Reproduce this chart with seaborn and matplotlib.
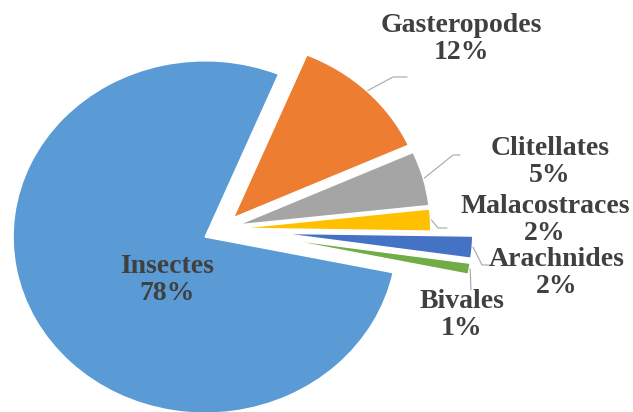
import numpy as np
import matplotlib.pyplot as plt
import seaborn as sns

groupes = ['Insectes', 'Gasteropodes', 'Clitellates', 'Malacostraces', 'Arachnides', 'Bivales']
pourcentages = [78, 12, 5, 2, 2, 1]
couleurs = ['#5b9bd5', '#ed7d31', '#a5a5a5', '#ffc000', '#4472c4', '#70ad47']
ecarts = [0.096, 0.09, 0.09, 0.09, 0.31, 0.31]

# centre des etiquettes (pixels de l'image)
pos_etiquettes = [(167, 280), (461, 39), (550, 162), (545, 220), (557, 273), (462, 315)]
# points des lignes de rappel apres le bord de la part (pixels de l'image)
coudes = [None, [(393, 77), (407, 77)], [(453, 155), (460, 155)],
          [(438, 228), (447, 228)], [(482, 265), (490, 265)], [(471, 290)]]

W, H = 633, 412
ky = 1.09  # le camembert de l'original est un peu ecrase en hauteur
R = 192
centre = (221.4, 199.4)


def px(x, y):
    return x, (H - y) * ky


sns.set_theme(style='white')
plt.rcParams['font.family'] = ['Liberation Serif', 'DejaVu Serif']

fig = plt.figure(figsize=(W / 100, H / 100), dpi=100)
ax = fig.add_axes([0, 0, 1, 1])

wedges, _ = ax.pie(pourcentages, colors=couleurs, explode=[e * R for e in ecarts],
                   startangle=-11.7, counterclock=False, radius=R, center=centre,
                   wedgeprops=dict(edgecolor='white', linewidth=1.0))

for i, w in enumerate(wedges):
    tx, ty = px(*pos_etiquettes[i])
    ax.text(tx, ty, f'{groupes[i]}\n{pourcentages[i]}%', ha='center', va='center',
            fontsize=20, fontweight='bold', color='#404040', linespacing=1.12)
    if coudes[i] is None:
        continue
    a = np.deg2rad((w.theta1 + w.theta2) / 2)
    cx, cy = w.center
    xs = [cx + (w.r + 1) * np.cos(a)]
    ys = [cy + (w.r + 1) * np.sin(a)]
    for p in coudes[i]:
        x, y = px(*p)
        xs.append(x)
        ys.append(y)
    ax.plot(xs, ys, color='#a6a6a6', lw=0.8)

ax.set_xlim(0, W)
ax.set_ylim(0, H * ky)
ax.set_aspect('auto')
ax.axis('off')

plt.savefig('out.png', dpi=100)
